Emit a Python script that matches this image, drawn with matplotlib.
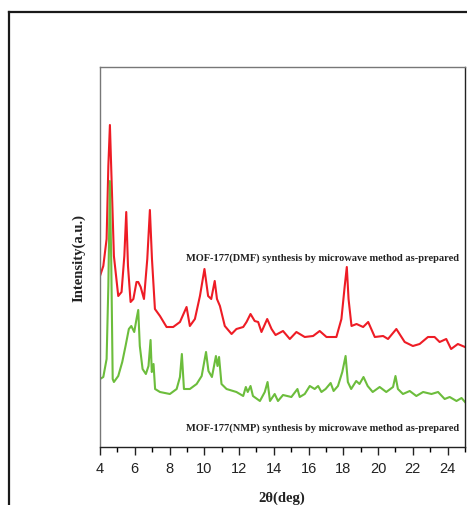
import numpy as np
import matplotlib
matplotlib.use('Agg')
import matplotlib.pyplot as plt
from matplotlib.lines import Line2D
from matplotlib.ticker import MultipleLocator

#####################  data  ####################
# 2theta (deg) and intensity (a.u., arbitrary offset scale)
dmf_x = [4.0, 4.19, 4.38, 4.48, 4.57, 4.67, 4.8, 5.05, 5.24, 5.4, 5.51, 5.61, 5.76, 5.92,
         6.1, 6.2, 6.34, 6.53, 6.72, 6.87, 6.99, 7.16, 7.45, 7.83, 8.21, 8.6, 8.98, 9.17,
         9.46, 9.75, 10.01, 10.22, 10.4, 10.6, 10.73, 10.9, 11.18, 11.57, 11.85, 12.24,
         12.43, 12.66, 12.9, 13.1, 13.29, 13.62, 13.87, 14.1, 14.53, 14.92, 15.3, 15.78,
         16.26, 16.64, 17.03, 17.6, 17.89, 18.08, 18.2, 18.3, 18.47, 18.76, 19.14, 19.43,
         19.81, 20.29, 20.57, 21.05, 21.53, 22.0, 22.39, 22.87, 23.25, 23.54, 23.92, 24.2,
         24.59, 25.0]
dmf_y = [171, 181, 208, 281, 322, 265, 191, 151, 155, 191, 235, 181, 145, 148,
         165, 165, 160, 148, 188, 237, 188, 138, 131, 120, 120, 125, 140, 121,
         128, 151, 178, 151, 148, 166, 148, 141, 121, 113, 118, 120,
         125, 133, 126, 125, 115, 128, 118, 112, 116, 108, 115, 110,
         111, 116, 110, 110, 128, 161, 180, 148, 121, 123, 120, 125,
         110, 111, 108, 118, 105, 101, 103, 110, 110, 105, 108, 98,
         103, 100]

nmp_x = [4.0, 4.19, 4.38, 4.48, 4.57, 4.65, 4.73, 4.8, 5.05, 5.28, 5.47, 5.66, 5.8, 5.97,
         6.1, 6.2, 6.29, 6.45, 6.64, 6.79, 6.91, 6.98, 7.08, 7.17, 7.45, 8.02, 8.41, 8.6,
         8.71, 8.83, 9.17, 9.56, 9.85, 10.1, 10.24, 10.44, 10.67, 10.76, 10.85, 10.99,
         11.28, 11.85, 12.24, 12.39, 12.5, 12.66, 12.8, 13.2, 13.48, 13.64, 13.78, 14.05,
         14.24, 14.53, 15.01, 15.36, 15.49, 15.78, 16.07, 16.35, 16.55, 16.74, 16.98,
         17.27, 17.44, 17.69, 17.94, 18.13, 18.26, 18.45, 18.74, 18.93, 19.16, 19.4,
         19.69, 20.09, 20.47, 20.86, 21.0, 21.14, 21.43, 21.82, 22.2, 22.59, 23.07, 23.45,
         23.83, 24.12, 24.51, 24.8, 25.0]
nmp_y = [68, 70, 88, 161, 266, 181, 68, 65, 71, 85, 101, 118, 121, 115,
         128, 137, 101, 78, 73, 81, 107, 75, 83, 58, 55, 53, 58, 70,
         93, 58, 58, 63, 71, 95, 76, 70, 91, 81, 90, 63,
         58, 55, 51, 60, 55, 61, 51, 46, 55, 65, 46, 53,
         46, 52, 50, 58, 50, 53, 61, 58, 61, 55, 58,
         64, 56, 61, 75, 91, 65, 58, 66, 63, 70, 61,
         55, 60, 55, 60, 71, 58, 53, 56, 51, 55, 53, 55,
         48, 50, 46, 49, 45]

x_ticks = [4, 6, 8, 10, 12, 14, 16, 18, 20, 22, 24]
dmf_label = 'MOF-177(DMF) synthesis by microwave method as-prepared'
nmp_label = 'MOF-177(NMP) synthesis by microwave method as-prepared'

#####################  figure  ####################
fig = plt.figure(figsize=(4.67, 5.06), dpi=100)
ax = fig.add_axes([100 / 467, 58 / 506, 365 / 467, 380 / 506])

ax.plot(dmf_x, dmf_y, color='#ee1c25', lw=1.5)
ax.plot(nmp_x, nmp_y, color='#6cbd3c', lw=1.5)

ax.set_xlim(4, 25)
ax.set_ylim(0, 380)
ax.set_xticks(x_ticks)
ax.xaxis.set_minor_locator(MultipleLocator(1))
ax.set_yticks([])
ax.tick_params(axis='x', which='major', direction='out', length=6, width=1,
               labelsize=10.5, pad=4, colors='#222222')
ax.tick_params(axis='x', which='minor', direction='out', length=3.5, width=1)
for lab in ax.get_xticklabels():
    lab.set_family(['Liberation Sans Narrow', 'Liberation Sans'])

ax.spines['left'].set_color('#777777')
ax.spines['top'].set_color('#777777')
ax.spines['right'].set_color('#222222')
ax.spines['bottom'].set_color('#222222')
for s in ax.spines.values():
    s.set_linewidth(1.0)

serif = ['Liberation Serif', 'DejaVu Serif']
ax.text(16.8, 190, dmf_label, ha='center', va='center', fontsize=7.5,
        fontweight='bold', family=serif, color='#222222')
ax.text(16.8, 20, nmp_label, ha='center', va='center', fontsize=7.5,
        fontweight='bold', family=serif, color='#222222')

fig.text(79 / 467, 1 - 258 / 506, 'Intensity(a.u.)', rotation=90, ha='center',
         va='center', fontsize=10.5, fontweight='bold', family=serif, color='#222222')
fig.text(282 / 467, 1 - 498 / 506, '2θ(deg)', ha='center', va='center',
         fontsize=10.5, fontweight='bold', family=serif, color='#222222')

# outer frame (top and left edges only)
fig.add_artist(Line2D([9 / 467, 1.0], [1 - 12.8 / 506, 1 - 12.8 / 506],
                      transform=fig.transFigure, color='#1a1a1a', lw=1.6))
fig.add_artist(Line2D([9 / 467, 9 / 467], [0.0, 1 - 12.8 / 506],
                      transform=fig.transFigure, color='#1a1a1a', lw=1.6))

fig.savefig('out.png', dpi=100)
